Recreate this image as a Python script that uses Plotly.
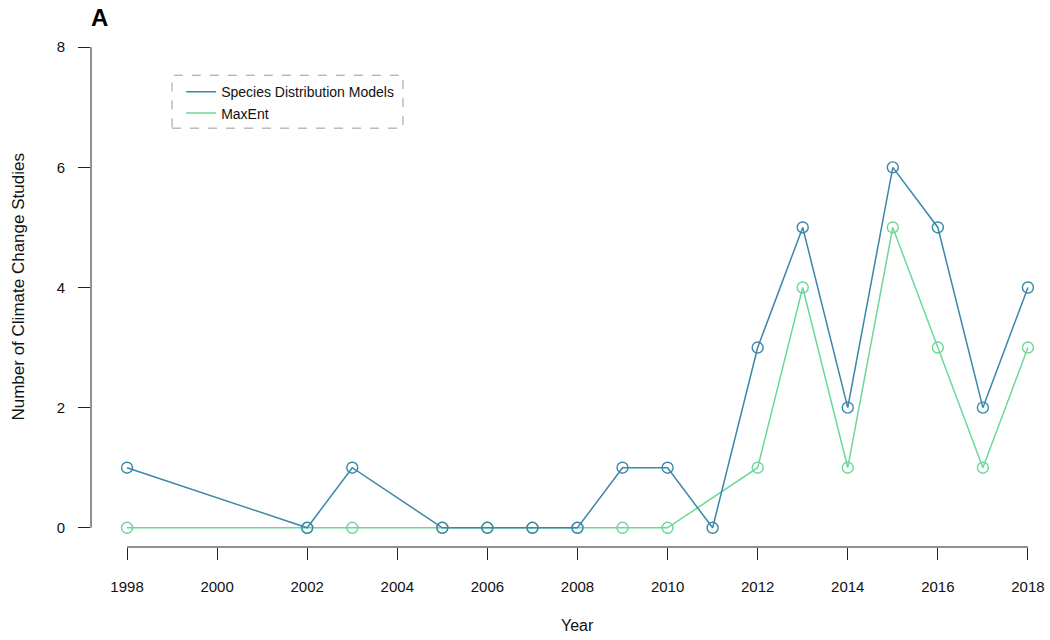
import plotly.graph_objects as go

# ---- data ----
sdm_years = [1998, 2002, 2003, 2005, 2006, 2007, 2008, 2009, 2010, 2011,
             2012, 2013, 2014, 2015, 2016, 2017, 2018]
sdm_counts = [1, 0, 1, 0, 0, 0, 0, 1, 1, 0, 3, 5, 2, 6, 5, 2, 4]

maxent_years = [1998, 2002, 2003, 2005, 2006, 2007, 2008, 2009, 2010,
                2012, 2013, 2014, 2015, 2016, 2017, 2018]
maxent_counts = [0, 0, 0, 0, 0, 0, 0, 0, 0, 1, 4, 1, 5, 3, 1, 3]

x_ticks = [1998, 2000, 2002, 2004, 2006, 2008, 2010, 2012, 2014, 2016, 2018]
y_ticks = [0, 2, 4, 6, 8]

SDM_COLOR = "#3A87A8"
MAXENT_COLOR = "#6DD79B"
FONT = "Liberation Sans, Arial, Helvetica, sans-serif"
AXIS_COLOR = "#222222"

fig = go.Figure()

# data traces (MaxEnt first so SDM circles sit on top)
fig.add_trace(go.Scatter(
    x=maxent_years, y=maxent_counts, mode="lines+markers", showlegend=False,
    line=dict(color=MAXENT_COLOR, width=1.5),
    marker=dict(symbol="circle-open", size=11, color=MAXENT_COLOR,
                line=dict(width=1.4, color=MAXENT_COLOR)),
    name="MaxEnt"))
fig.add_trace(go.Scatter(
    x=sdm_years, y=sdm_counts, mode="lines+markers", showlegend=False,
    line=dict(color=SDM_COLOR, width=1.5),
    marker=dict(symbol="circle-open", size=11, color=SDM_COLOR,
                line=dict(width=1.4, color=SDM_COLOR)),
    name="Species Distribution Models"))

# legend-only entries (lines only)
fig.add_trace(go.Scatter(x=[None], y=[None], mode="lines",
                         line=dict(color=SDM_COLOR, width=1.5),
                         name="Species Distribution Models", legendrank=1))
fig.add_trace(go.Scatter(x=[None], y=[None], mode="lines",
                         line=dict(color=MAXENT_COLOR, width=1.5),
                         name="MaxEnt", legendrank=2))

# R-style detached axis lines spanning the tick range
fig.add_shape(type="line", xref="x", yref="paper",
              x0=min(x_ticks), x1=max(x_ticks), y0=0, y1=0,
              line=dict(color=AXIS_COLOR, width=1))
fig.add_shape(type="line", xref="paper", yref="y",
              x0=0, x1=0, y0=min(y_ticks), y1=max(y_ticks),
              line=dict(color=AXIS_COLOR, width=1))

# dashed legend box
fig.add_shape(type="rect", xref="paper", yref="paper",
              x0=0.0845, x1=0.3253, y0=0.807, y1=0.909,
              line=dict(color="#999999", width=1, dash="dash"),
              fillcolor="rgba(0,0,0,0)", layer="below")

fig.update_layout(
    width=1050, height=640,
    margin=dict(l=91, r=0, t=28, b=93),
    paper_bgcolor="white", plot_bgcolor="white",
    font=dict(family=FONT, size=15, color="#111111"),
    legend=dict(x=0.094, y=0.907, xanchor="left", yanchor="top",
                bgcolor="rgba(0,0,0,0)", borderwidth=0,
                font=dict(size=14, family=FONT, color="#111111"),
                tracegroupgap=0),
    xaxis=dict(range=[1997.2, 2018.49], tickmode="array", tickvals=x_ticks,
               ticktext=[str(v) for v in x_ticks],
               ticks="outside", ticklen=12, tickwidth=1, tickcolor=AXIS_COLOR,
               showline=False, showgrid=False, zeroline=False,
               ticklabelstandoff=14, tickfont=dict(size=15)),
    yaxis=dict(range=[-0.32, 8.32], tickmode="array", tickvals=y_ticks,
               ticktext=[str(v) for v in y_ticks],
               ticks="outside", ticklen=12, tickwidth=1, tickcolor=AXIS_COLOR,
               showline=False, showgrid=False, zeroline=False,
               ticklabelstandoff=10, tickfont=dict(size=15)),
    annotations=[
        dict(text="Year", xref="x", yref="paper", x=2008, y=-0.152,
             xanchor="center", yanchor="middle", showarrow=False,
             font=dict(size=16, family=FONT)),
        dict(text="Number of Climate Change Studies", xref="paper", yref="paper",
             x=-0.0761, y=0.5, textangle=-90, xanchor="center", yanchor="middle",
             showarrow=False, font=dict(size=17, family=FONT)),
        dict(text="<b>A</b>", xref="paper", yref="paper", x=-0.002, y=1.021,
             xanchor="left", yanchor="middle", showarrow=False,
             font=dict(size=24, family=FONT, color="#000000")),
    ],
)

fig.write_html("out.html")
